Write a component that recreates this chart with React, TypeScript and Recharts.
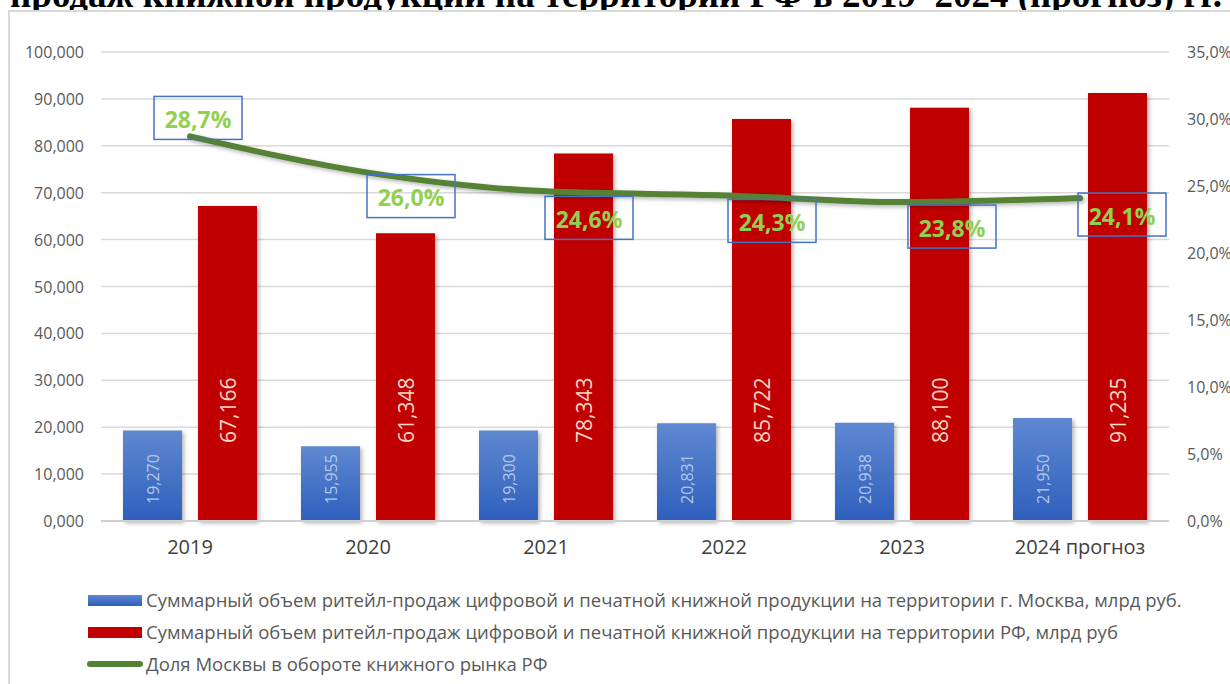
import React from 'react';
import { ComposedChart, Bar, Line, XAxis, YAxis, CartesianGrid, LabelList } from 'recharts';

const categories = ['2019', '2020', '2021', '2022', '2023', '2024 прогноз'];
const moscowSales = [19270, 15955, 19300, 20831, 20938, 21950];
const russiaSales = [67166, 61348, 78343, 85722, 88100, 91235];
const moscowShare = [0.287, 0.26, 0.246, 0.243, 0.238, 0.241];
const leftTicks = [0, 10000, 20000, 30000, 40000, 50000, 60000, 70000, 80000, 90000, 100000];
const rightTicks = [0, 0.05, 0.1, 0.15, 0.2, 0.25, 0.3, 0.35];

const seriesNames = [
  'Суммарный объем ритейл-продаж цифровой и печатной книжной продукции на территории г. Москва, млрд руб.',
  'Суммарный объем ритейл-продаж цифровой и печатной книжной продукции на территории РФ, млрд руб',
  'Доля Москвы в обороте книжного рынка РФ',
];
const titleText = 'продаж книжной продукции на территории РФ в 2019–2024 (прогноз) гг.';

// label box offsets relative to line point (style only)
const shareLabelOffsets = [
  [-36, -40],
  [-1, 2],
  [-1, 5],
  [4, 4],
  [6, 3],
  [-2, -5],
];

const data = categories.map((c, i) => ({
  cat: c,
  moscow: moscowSales[i],
  russia: russiaSales[i],
  share: moscowShare[i],
}));

const FONT = '"Open Sans", Calibri, sans-serif';

const fmtLeft = (v: number) => `${v / 1000},000`;
const fmtRight = (v: number) => `${(v * 100).toFixed(1).replace('.', ',')}%`;
const fmtNum = (v: number) => v.toLocaleString('en-US');

const LeftTick = (props: any) => {
  const { x, y, payload } = props;
  return (
    <text x={x} y={y} textAnchor="end" dominantBaseline="central" fontSize={16} fill="#595959" fontFamily={FONT}>
      {fmtLeft(payload.value)}
    </text>
  );
};

const RightTick = (props: any) => {
  const { x, y, payload } = props;
  return (
    <text x={x} y={y} textAnchor="start" dominantBaseline="central" fontSize={16} fill="#595959" fontFamily={FONT}>
      {fmtRight(payload.value)}
    </text>
  );
};

const RedLabel = (props: any) => {
  const { x, y, width, height, value } = props;
  const cx = x + width / 2;
  const by = y + height - 78;
  return (
    <text
      x={cx}
      y={by}
      transform={`rotate(-90 ${cx} ${by})`}
      textAnchor="start"
      dominantBaseline="central"
      fill="#f8d5c8"
      fontSize={21}
      fontFamily={FONT}
    >
      {fmtNum(value)}
    </text>
  );
};

const BlueLabel = (props: any) => {
  const { x, y, width, height, value } = props;
  const cx = x + width / 2;
  const by = y + height - 17;
  return (
    <text
      x={cx}
      y={by}
      transform={`rotate(-90 ${cx} ${by})`}
      textAnchor="start"
      dominantBaseline="central"
      fill="#b4c7e7"
      fontSize={16}
      fontFamily={FONT}
    >
      {fmtNum(value)}
    </text>
  );
};

const ShareLabel = (props: any) => {
  const { x, y, value, index } = props;
  const [dx, dy] = shareLabelOffsets[index] || [0, 0];
  const bx = x + dx;
  const by = y + dy;
  const w = 88;
  const h = 43;
  return (
    <g>
      <rect x={bx} y={by} width={w} height={h} fill="none" stroke="#4472c4" strokeWidth={1.5} />
      <text
        x={bx + w / 2}
        y={by + h / 2 + 1}
        textAnchor="middle"
        dominantBaseline="central"
        fill="#92d050"
        fontSize={23}
        fontWeight="bold"
        fontFamily={FONT}
      >
        {(value * 100).toFixed(1).replace('.', ',') + '%'}
      </text>
    </g>
  );
};

export default function App() {
  return (
    <div style={{ position: 'absolute', left: 0, top: 0, width: 1230, height: 684, overflow: 'hidden', background: '#fff' }}>
      <div
        style={{
          position: 'absolute',
          left: 10,
          top: -25,
          whiteSpace: 'nowrap',
          fontFamily: '"Liberation Serif", "Times New Roman", serif',
          fontWeight: 'bold',
          fontSize: 37,
          lineHeight: '40px',
          color: '#000',
        }}
      >
        {titleText}
      </div>
      <div
        style={{
          position: 'absolute',
          left: 8,
          top: 10,
          width: 1240,
          height: 700,
          border: '2px solid #d9d9d9',
          boxSizing: 'border-box',
          background: '#fff',
        }}
      />
      <div style={{ position: 'absolute', left: 0, top: 0 }}>
        <ComposedChart
          width={1230}
          height={684}
          data={data}
          margin={{ top: 52, right: 0, left: 0, bottom: 123 }}
          barGap={16}
        >
          <defs>
            <linearGradient id="blueGrad" x1="0" y1="0" x2="0" y2="1">
              <stop offset="0%" stopColor="#5f88d0" />
              <stop offset="100%" stopColor="#2e5fbd" />
            </linearGradient>
            <filter id="shadow" x="-20%" y="-20%" width="140%" height="140%">
              <feDropShadow dx="2" dy="2" stdDeviation="2" floodColor="#000" floodOpacity="0.3" />
            </filter>
          </defs>
          <CartesianGrid vertical={false} stroke="#d9d9d9" strokeWidth={1.5} yAxisId="left" />
          <XAxis
            dataKey="cat"
            height={40}
            tickLine={false}
            axisLine={{ stroke: '#d0d0d0', strokeWidth: 2 }}
            tickMargin={13}
            tick={{ fontSize: 20, fill: '#404040', fontFamily: FONT }}
            interval={0}
          />
          <YAxis
            yAxisId="left"
            width={101}
            domain={[0, 100000]}
            ticks={leftTicks}
            tickLine={false}
            axisLine={false}
            tickMargin={11}
            tick={LeftTick}
            interval={0}
          />
          <YAxis
            yAxisId="right"
            orientation="right"
            width={61}
            domain={[0, 0.35]}
            ticks={rightTicks}
            tickLine={false}
            axisLine={false}
            tickMargin={12}
            tick={RightTick}
            interval={0}
          />
          <Bar
            yAxisId="left"
            dataKey="moscow"
            fill="url(#blueGrad)"
            barSize={59}
            isAnimationActive={false}
            filter="url(#shadow)"
          >
            <LabelList dataKey="moscow" content={BlueLabel} />
          </Bar>
          <Bar
            yAxisId="left"
            dataKey="russia"
            fill="#c00000"
            barSize={59}
            isAnimationActive={false}
            filter="url(#shadow)"
          >
            <LabelList dataKey="russia" content={RedLabel} />
          </Bar>
          <Line
            yAxisId="right"
            type="monotone"
            dataKey="share"
            stroke="#548235"
            strokeWidth={6}
            strokeLinecap="round"
            dot={false}
            activeDot={false}
            isAnimationActive={false}
            filter="url(#shadow)"
          >
            <LabelList dataKey="share" content={ShareLabel} />
          </Line>
        </ComposedChart>
      </div>
      <div style={{ position: 'absolute', left: 0, top: 0, fontFamily: FONT, fontSize: 18.5, color: '#595959' }}>
        <div style={{ position: 'absolute', left: 88, top: 595, width: 54, height: 11, background: 'linear-gradient(#5f88d0, #2e5fbd)' }} />
        <div style={{ position: 'absolute', left: 146, top: 588, whiteSpace: 'nowrap', lineHeight: '24px' }}>{seriesNames[0]}</div>
        <div style={{ position: 'absolute', left: 88, top: 627, width: 54, height: 11, background: '#c00000' }} />
        <div style={{ position: 'absolute', left: 146, top: 620, whiteSpace: 'nowrap', lineHeight: '24px' }}>{seriesNames[1]}</div>
        <div style={{ position: 'absolute', left: 87, top: 661, width: 56, height: 6, borderRadius: 3, background: '#548235' }} />
        <div style={{ position: 'absolute', left: 146, top: 652, whiteSpace: 'nowrap', lineHeight: '24px' }}>{seriesNames[2]}</div>
      </div>
    </div>
  );
}
